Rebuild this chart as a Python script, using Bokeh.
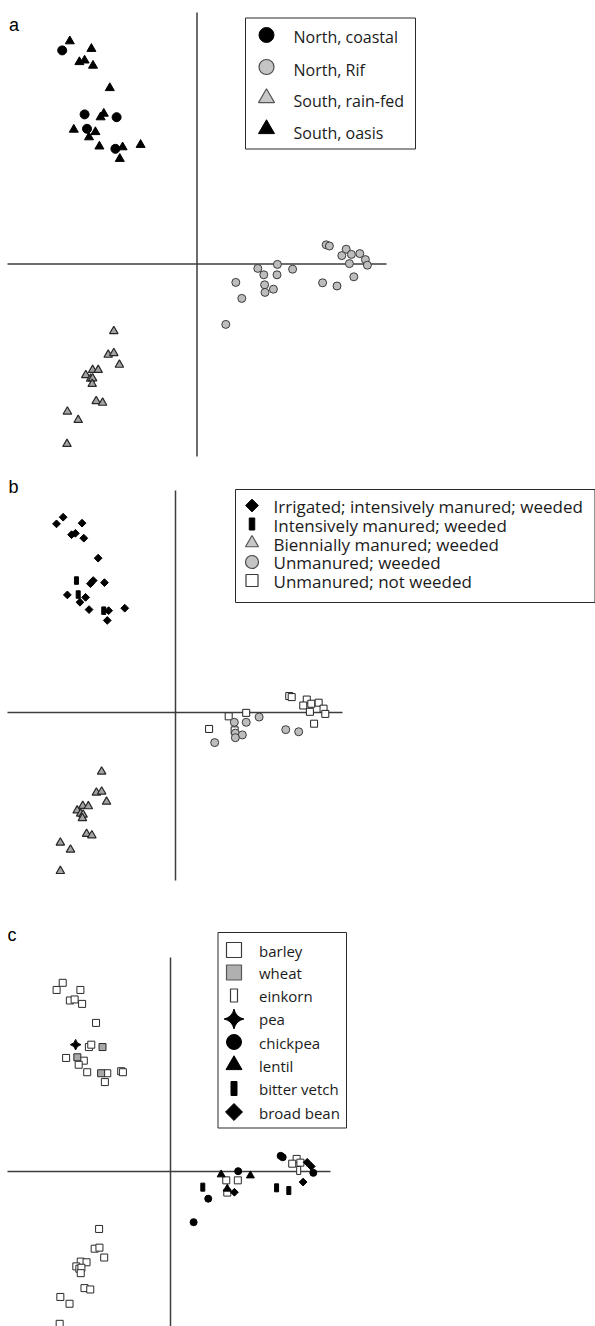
import math
from bokeh.plotting import figure
from bokeh.layouts import column
from bokeh.core.properties import value
from bokeh.embed import file_html
from bokeh.resources import INLINE

# ---------------- panel a: discriminant scores by region ----------------
a_labels = ["North, coastal", "North, Rif", "South, rain-fed", "South, oasis"]
a_coastal_x = [-3.37, -2.81, -2.01, -2.75, -2.04]
a_coastal_y = [5.34, 3.74, 3.67, 3.38, 2.88]
a_rif_x = [3.23, 3.31, 3.73, 3.62, 3.86, 4.07, 4.21, 3.81, 4.26, 3.92, 3.50, 3.14,
           2.01, 2.39, 1.52, 1.67, 2.00, 0.97, 1.69, 1.91, 1.70, 1.12, 0.72]
a_rif_y = [0.48, 0.45, 0.37, 0.21, 0.24, 0.26, 0.11, 0.01, -0.03, -0.32, -0.55, -0.47,
           -0.01, -0.13, -0.11, -0.27, -0.27, -0.46, -0.52, -0.63, -0.71, -0.86, -1.51]
a_rainfed_x = [-2.08, -2.22, -2.08, -1.94, -2.61, -2.47, -2.78, -2.66, -2.61, -2.62,
               -2.52, -2.36, -3.24, -2.97, -3.25]
a_rainfed_y = [-1.68, -2.27, -2.23, -2.52, -2.65, -2.65, -2.78, -2.87, -2.86, -3.00,
               -3.43, -3.47, -3.69, -3.90, -4.50]
a_oasis_x = [-3.18, -2.64, -2.94, -2.81, -2.60, -2.18, -2.33, -2.41, -3.08, -2.54,
             -2.70, -2.44, -1.86, -1.41, -1.93]
a_oasis_y = [5.57, 5.38, 5.05, 5.09, 4.96, 4.40, 3.76, 3.67, 3.36, 3.30,
             3.17, 2.94, 2.92, 2.98, 2.63]

# ---------------- panel b: by husbandry regime ----------------
b_labels = ["Irrigated; intensively manured; weeded", "Intensively manured; weeded",
            "Biennially manured; weeded", "Unmanured; weeded", "Unmanured; not weeded"]
b_irrig_x = [-3.21, -3.40, -2.67, -2.97, -2.86, -2.62, -2.21, -2.43, -2.35, -2.03,
             -3.09, -2.57, -2.73, -2.47, -1.91, -1.45, -1.95]
b_irrig_y = [5.58, 5.39, 5.41, 5.08, 5.12, 4.98, 4.41, 3.68, 3.77, 3.71,
             3.36, 3.29, 3.15, 2.94, 2.91, 2.98, 2.63]
b_intens_x = [-2.83, -2.78, -2.05]
b_intens_y = [3.77, 3.37, 2.91]
b_bienn_x = [-2.11, -2.26, -2.11, -1.97, -2.65, -2.49, -2.81, -2.71, -2.64, -2.66,
             -2.54, -2.39, -3.29, -3.00, -3.29]
b_bienn_y = [-1.69, -2.29, -2.26, -2.55, -2.67, -2.68, -2.80, -2.89, -2.92, -3.02,
             -3.47, -3.51, -3.72, -3.92, -4.53]
b_unman_x = [2.39, 1.68, 2.02, 1.71, 1.91, 1.71, 1.12, 3.15, 3.52]
b_unman_y = [-0.13, -0.28, -0.28, -0.59, -0.64, -0.72, -0.86, -0.49, -0.55]
b_notweed_x = [3.25, 3.32, 3.75, 3.65, 3.88, 4.09, 4.23, 3.84, 4.28, 3.96, 2.02, 1.52, 0.96, 1.69]
b_notweed_y = [0.47, 0.44, 0.37, 0.20, 0.25, 0.28, 0.11, 0.02, -0.04, -0.32, -0.01, -0.11, -0.47, -0.51]

# ---------------- panel c: by crop ----------------
c_labels = ["barley", "wheat", "einkorn", "pea", "chickpea", "lentil", "bitter vetch", "broad bean"]
c_barley_x = [-3.17, -3.35, -2.65, -2.96, -2.82, -2.60, -2.19, -2.40, -2.33, -3.07, -2.55, -2.70,
              -2.45, -1.86, -1.45, -1.40, -1.93,
              -2.10, -2.23, -2.09, -1.95, -2.64, -2.47, -2.77, -2.68, -2.62, -2.64, -2.53, -2.36,
              -3.24, -2.97, -3.26,
              3.71, 3.58, 3.82, 1.64, 1.98, 1.67]
c_barley_y = [5.55, 5.34, 5.34, 5.03, 5.06, 4.93, 4.37, 3.66, 3.73, 3.34, 3.26, 3.14,
              2.92, 2.89, 2.95, 2.92, 2.63,
              -1.69, -2.27, -2.24, -2.53, -2.65, -2.67, -2.79, -2.86, -2.83, -2.99, -3.43, -3.47,
              -3.69, -3.89, -4.48,
              0.37, 0.23, 0.26, -0.26, -0.26, -0.62]
c_wheat_x = [-2.00, -2.74, -2.04]
c_wheat_y = [3.66, 3.36, 2.89]
c_einkorn_x = [3.77]
c_einkorn_y = [0.03]
c_pea_x = [-2.79]
c_pea_y = [3.73]
c_chickpea_x = [3.24, 3.30, 1.99, 4.20, 1.11, 0.68]
c_chickpea_y = [0.46, 0.42, 0.01, -0.04, -0.80, -1.49]
c_lentil_x = [1.49, 2.35, 1.67]
c_lentil_y = [-0.09, -0.12, -0.51]
c_vetch_x = [0.95, 3.12, 3.48]
c_vetch_y = [-0.46, -0.48, -0.56]
c_bean_x = [4.02, 4.14, 3.90, 1.88]
c_bean_y = [0.27, 0.15, -0.31, -0.61]

# ---------------- layout (page pixels) ----------------
W = 595
CFG = {
    "a": dict(top=0, h=468, xr=(-4.9125, 9.9625), yr=(-5.1125, 6.5875)),
    "b": dict(top=468, h=437, xr=(-5.0, 12.0), yr=(-5.5143, 6.9714)),
    "c": dict(top=905, h=421, xr=(-5.0, 12.5), yr=(-4.5588, 7.8235)),
}
FONT = value("Open Sans")
TXT = "#1b1b1b"
AX = "#3d3d3d"
ROT = math.pi / 4


def conv(cfg):
    x0, x1 = cfg["xr"]
    y0, y1 = cfg["yr"]

    def f(px, py):
        return (x0 + px * (x1 - x0) / W,
                y1 - (py - cfg["top"]) * (y1 - y0) / cfg["h"])
    return f


def make_fig(cfg):
    p = figure(width=W, height=cfg["h"], x_range=cfg["xr"], y_range=cfg["yr"],
               x_axis_type=None, y_axis_type=None, toolbar_location=None,
               output_backend="svg", min_border=0, outline_line_color=None)
    p.background_fill_color = "white"
    p.border_fill_color = "white"
    return p


def draw(p, xs, ys, st):
    if st.get("kind") == "rect":
        p.rect(x=xs, y=ys, width=st["w"], height=st["h"], width_units="screen",
               height_units="screen", fill_color=st["fill"], line_color=st["line"],
               line_width=st.get("lw", 1))
    else:
        p.scatter(x=xs, y=ys, marker=st["marker"], size=st["size"], angle=st.get("angle", 0),
                  fill_color=st["fill"], line_color=st["line"], line_width=st.get("lw", 1))


def axes(p, f, hx, vy):
    hl, _ = f(hx[0], 0)
    hr, _ = f(hx[1], 0)
    _, vt = f(0, vy[0])
    _, vb = f(0, vy[1])
    p.segment(x0=[hl, 0], y0=[0, vt], x1=[hr, 0], y1=[0, vb], line_color=AX, line_width=1.5)


def panel_letter(p, f, letter, px, py):
    x, y = f(px, py)
    p.text(x=[x], y=[y], text=[letter], text_font=value("Liberation Sans"),
           text_font_size="18px", text_baseline="alphabetic", text_align="left", text_color="black")


def legend(p, f, box, mx, tx, rows, labels, styles, fsize):
    l, t = f(box[0], box[1])
    r, b = f(box[2], box[3])
    p.quad(left=[l], right=[r], top=[t], bottom=[b], fill_color="white",
           line_color="#2a2a2a", line_width=1)
    for (my, ty), lab, st in zip(rows, labels, styles):
        x, y = f(mx, my)
        draw(p, [x], [y], st)
        x2, y2 = f(tx, ty)
        p.text(x=[x2], y=[y2], text=[lab], text_font=FONT, text_font_size=fsize,
               text_baseline="middle", text_align="left", text_color=TXT)


# ---------------- panel a ----------------
ca = CFG["a"]; fa = conv(ca)
pa = make_fig(ca)
axes(pa, fa, (7, 386), (12, 456))
st_coastal = dict(marker="circle", size=9, fill="black", line="black")
st_rif = dict(marker="circle", size=8, fill="#bdbdbd", line="#3a3a3a", lw=1)
st_rain = dict(marker="triangle", size=8.5, fill="#a3a3a3", line="#262626", lw=1.2)
st_oasis = dict(marker="triangle", size=9, fill="black", line="black")
draw(pa, a_rif_x, a_rif_y, st_rif)
draw(pa, a_rainfed_x, a_rainfed_y, st_rain)
draw(pa, a_oasis_x, a_oasis_y, st_oasis)
draw(pa, a_coastal_x, a_coastal_y, st_coastal)
panel_letter(pa, fa, "a", 8.5, 24)
legend(pa, fa, (245, 17.5, 415, 148.5), 266, 293,
       [(34.5, 36.5), (66.5, 69.5), (97.5, 100.5), (128.5, 132)], a_labels,
       [dict(marker="circle", size=15, fill="black", line="black"),
        dict(marker="circle", size=15, fill="#c4c4c4", line="#4a4a4a", lw=1.2),
        dict(marker="triangle", size=16, fill="#c8c8c8", line="#555555", lw=1.2),
        dict(marker="triangle", size=16, fill="black", line="black")], "16px")

# ---------------- panel b ----------------
cb = CFG["b"]; fb = conv(cb)
pb = make_fig(cb)
axes(pb, fb, (7, 342), (490, 880))
st_irrig = dict(marker="square", size=5.5, angle=ROT, fill="black", line="black")
st_intens = dict(kind="rect", w=4, h=7.5, fill="black", line="black")
st_bienn = dict(marker="triangle", size=8.5, fill="#a3a3a3", line="#262626", lw=1.2)
st_unman = dict(marker="circle", size=8, fill="#bdbdbd", line="#3a3a3a", lw=1)
st_notweed = dict(marker="square", size=7, fill="white", line="#222222", lw=1)
draw(pb, b_notweed_x, b_notweed_y, st_notweed)
draw(pb, b_unman_x, b_unman_y, st_unman)
draw(pb, b_bienn_x, b_bienn_y, st_bienn)
draw(pb, b_irrig_x, b_irrig_y, st_irrig)
draw(pb, b_intens_x, b_intens_y, st_intens)
panel_letter(pb, fb, "b", 8, 486)
legend(pb, fb, (235, 489, 594.5, 602), 251.5, 273,
       [(505, 506), (523.5, 525), (542.5, 543.5), (561.5, 562), (580, 580.5)], b_labels,
       [dict(marker="square", size=9, angle=ROT, fill="black", line="black"),
        dict(kind="rect", w=5.5, h=12, fill="black", line="black"),
        dict(marker="triangle", size=13, fill="#c8c8c8", line="#555555", lw=1.2),
        dict(marker="circle", size=13, fill="#c4c4c4", line="#4a4a4a", lw=1.2),
        dict(marker="square", size=12, fill="white", line="#3a3a3a", lw=1.2)], "17px")

# ---------------- panel c ----------------
cc = CFG["c"]; fc = conv(cc)
pc = make_fig(cc)
axes(pc, fc, (7, 330), (957, 1326))
st_barley = dict(marker="square", size=7, fill="white", line="#2a2a2a", lw=1)
st_wheat = dict(marker="square", size=7, fill="#a8a8a8", line="#2a2a2a", lw=1)
st_einkorn = dict(kind="rect", w=4, h=8, fill="white", line="#2a2a2a", lw=1)
st_pea = dict(marker="square_pin", size=7.5, angle=ROT, fill="black", line="black")
st_chick = dict(marker="circle", size=7, fill="black", line="black")
st_lentil = dict(marker="triangle", size=8, fill="black", line="black")
st_vetch = dict(kind="rect", w=4, h=8, fill="black", line="black")
st_bean = dict(marker="square", size=5.5, angle=ROT, fill="black", line="black")
draw(pc, c_barley_x, c_barley_y, st_barley)
draw(pc, c_wheat_x, c_wheat_y, st_wheat)
draw(pc, c_einkorn_x, c_einkorn_y, st_einkorn)
draw(pc, c_pea_x, c_pea_y, st_pea)
draw(pc, c_chickpea_x, c_chickpea_y, st_chick)
draw(pc, c_lentil_x, c_lentil_y, st_lentil)
draw(pc, c_vetch_x, c_vetch_y, st_vetch)
draw(pc, c_bean_x, c_bean_y, st_bean)
panel_letter(pc, fc, "c", 7, 934)
legend(pc, fc, (217.5, 932, 346, 1127.5), 233.5, 258.5,
       [(949.5, 950), (972, 972.5), (995, 995.5), (1018.5, 1018.5), (1041.5, 1042),
        (1064.5, 1065), (1088, 1088.5), (1111.5, 1112)], c_labels,
       [dict(marker="square", size=15, fill="white", line="#3a3a3a", lw=1.2),
        dict(marker="square", size=15, fill="#b0b0b0", line="#555555", lw=1.2),
        dict(kind="rect", w=7, h=13, fill="white", line="#3a3a3a", lw=1.2),
        dict(marker="square_pin", size=14, angle=ROT, fill="black", line="black"),
        dict(marker="circle", size=15, fill="black", line="black"),
        dict(marker="triangle", size=16, fill="black", line="black"),
        dict(kind="rect", w=6, h=14, fill="black", line="black"),
        dict(marker="square", size=12, angle=ROT, fill="black", line="black")], "15px")

layout = column(pa, pb, pc, spacing=0)
open("out.html", "w").write(file_html(layout, INLINE))
